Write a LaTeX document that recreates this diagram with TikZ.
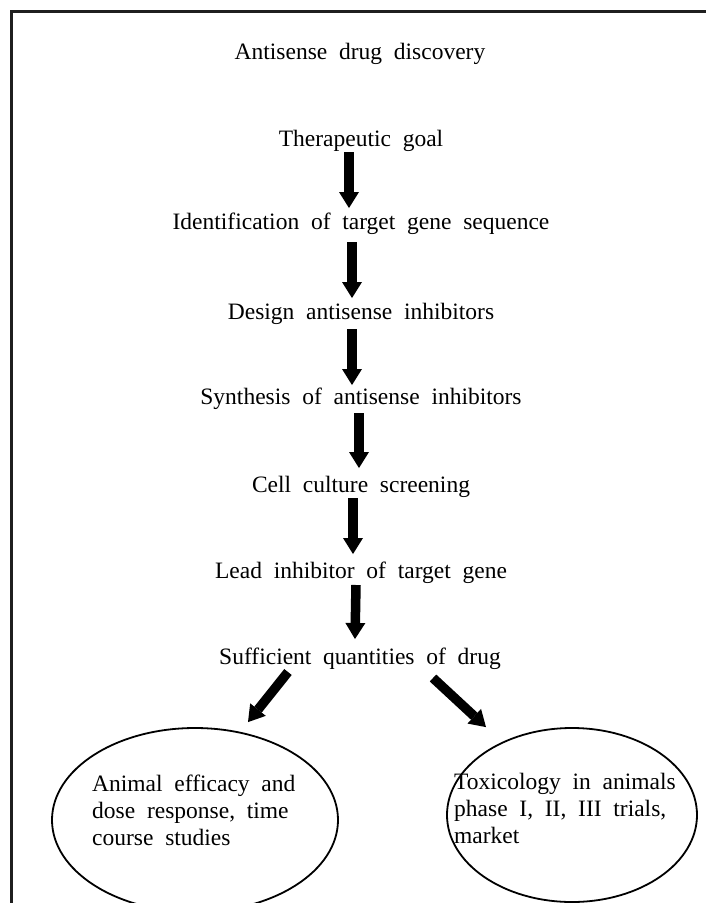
\documentclass[tikz,border=0pt]{standalone}
\usepackage{fontspec}
\setmainfont[WordSpace=2]{Liberation Serif}
\usetikzlibrary{arrows.meta,shapes.geometric,calc}
\begin{document}
\begin{tikzpicture}[x=1pt,y=-1pt,
  lbl/.style={font=\fontsize{23.5}{27}\selectfont, inner sep=0pt, anchor=base},
  body/.style={font=\fontsize{23.5}{27}\selectfont, inner sep=0pt, anchor=base west, align=left},
  flow/.style={line width=9.5pt, -{Triangle[width=20pt,length=16pt,line width=0pt]}},
  oval/.style={draw, ellipse, line width=1.8pt, inner sep=0pt}]
\useasboundingbox (0,0) rectangle (706,903);
\draw[line width=3pt, black!88] (11.5,903) -- (11.5,11) -- (706,11);

\node[lbl] (title) at (360,59) {Antisense drug discovery};
\node[lbl] (n1) at (361,146) {Therapeutic goal};
\node[lbl] (n2) at (361,229) {Identification of target gene sequence};
\node[lbl] (n3) at (361,319) {Design antisense inhibitors};
\node[lbl] (n4) at (361,404) {Synthesis of antisense inhibitors};
\node[lbl] (n5) at (361,492) {Cell culture screening};
\node[lbl] (n6) at (361,578) {Lead inhibitor of target gene};
\node[lbl] (n7) at (360,664) {Sufficient quantities of drug};

\draw[flow] ($(n1.base)+(-12,6)$) -- ($(n2.base)+(-12,-21)$);
\draw[flow] ($(n2.base)+(-9,13)$) -- ($(n3.base)+(-9,-21)$);
\draw[flow] ($(n3.base)+(-9,10)$) -- ($(n4.base)+(-9,-19)$);
\draw[flow] ($(n4.base)+(-2,9)$) -- ($(n5.base)+(-2,-24)$);
\draw[flow] ($(n5.base)+(-8,6)$) -- ($(n6.base)+(-8,-24)$);
\draw[flow] ($(n6.base)+(-5,7)$) -- ($(n7.base)+(-5,-25)$);

\node[oval, minimum width=286pt, minimum height=184pt] (e1) at (195,820) {};
\node[oval, minimum width=250pt, minimum height=174pt] (e2) at (572,815) {};

\node[body] (t1) at (92,845) {Animal efficacy and\\dose response, time\\course studies};
\node[body] (t2) at (454,843) {Toxicology in animals\\phase I, II, III trials,\\market};

\draw[flow] ($(n7.base)+(-72,8)$) -- ($(e1.north)+(53,-5)$);
\draw[flow] ($(n7.base)+(73,14)$) -- ($(e2.north)+(-86,0)$);
\end{tikzpicture}
\end{document}
